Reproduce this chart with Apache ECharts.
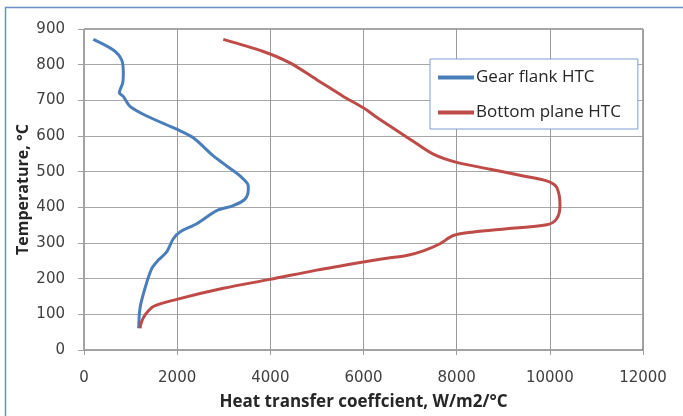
<!DOCTYPE html>
<html>
<head>
<meta charset="utf-8">
<script src="https://cdn.jsdelivr.net/npm/echarts@6/dist/echarts.min.js"></script>
<style>
html,body{margin:0;padding:0;background:#fff;}
#c{width:683px;height:416px;}
</style>
</head>
<body>
<div id="c"></div>
<script>
// Heat transfer coefficient (W/m2/°C) vs temperature (°C)
const gearFlankHTC = [200, 629, 809, 844, 831, 758, 844, 987, 1346, 1990, 2346, 2776, 3063, 3349, 3527, 3527, 3456, 3205, 2849, 2419, 2061, 1917, 1775, 1595, 1453, 1309, 1202, 1174];
const gearFlankTemp = [871, 841, 813, 776, 749, 721, 711, 683, 656, 619, 595, 544, 516, 488, 460, 451, 423, 405, 391, 354, 331, 312, 275, 252, 228, 173, 117, 61];

const bottomPlaneHTC = [2990, 3849, 4420, 4995, 5567, 5996, 6354, 6998, 7498, 8000, 8716, 9430, 9933, 10147, 10218, 10147, 9933, 9074, 8357, 7928, 7642, 7284, 6927, 6425, 5996, 4995, 3993, 2990, 1990, 1488, 1309, 1238, 1202];
const bottomPlaneTemp = [871, 837, 805, 758, 711, 679, 646, 591, 549, 526, 507, 488, 474, 456, 405, 368, 351, 340, 331, 321, 298, 278, 265, 256, 247, 224, 198, 173, 142, 122, 98, 80, 61];

const seriesNames = ['Gear flank HTC', 'Bottom plane HTC'];
const xTitle = 'Heat transfer coeffcient, W/m2/°C';
const yTitle = 'Temperature, °C';

function pairs(xs, ys) { return xs.map((x, i) => [x, ys[i]]); }

const chart = echarts.init(document.getElementById('c'), null, {renderer: 'canvas'});
const font = 'Open Sans';
const tickFont = 'DejaVu Sans';
chart.setOption({
  animation: false,
  backgroundColor: '#ffffff',
  graphic: [{
    type: 'rect', z: 0, silent: true,
    shape: {x: 5.5, y: 7.5, width: 720, height: 440},
    style: {fill: 'none', stroke: '#6a8fc8', lineWidth: 1.5}
  }],
  grid: {left: 84, right: 40, top: 29, bottom: 64, show: true, borderColor: '#4a4a4a', borderWidth: 1, backgroundColor: 'transparent'},
  legend: {
    orient: 'vertical', left: 430, top: 59,
    data: seriesNames,
    icon: 'rect', itemWidth: 36, itemHeight: 4, itemGap: 18,
    padding: [10, 17, 8, 8],
    borderColor: '#7f9fd0', borderWidth: 1, backgroundColor: '#fff',
    textStyle: {fontFamily: font, fontSize: 17, color: '#262626', padding: [0, 0, 0, -3]}
  },
  xAxis: {
    type: 'value', min: 0, max: 12000, interval: 2000,
    name: xTitle, nameLocation: 'middle', nameGap: 44, nameMoveOverlap: false,
    nameTextStyle: {fontFamily: font, fontSize: 17, fontWeight: 'bold', color: '#262626'},
    axisLine: {show: true, lineStyle: {color: '#a0a0a0', width: 1}},
    axisTick: {show: true, length: 5, lineStyle: {color: '#a0a0a0'}},
    axisLabel: {fontFamily: tickFont, fontSize: 15, color: '#404040', margin: 21, formatter: v => String(v)},
    splitLine: {show: true, lineStyle: {color: '#9a9a9a', width: 1}}
  },
  yAxis: {
    type: 'value', min: 0, max: 900, interval: 100,
    name: yTitle, nameLocation: 'middle', nameGap: 53, nameMoveOverlap: false,
    nameTextStyle: {fontFamily: font, fontSize: 16, fontWeight: 'bold', color: '#262626'},
    axisLine: {show: true, lineStyle: {color: '#a0a0a0', width: 1}},
    axisTick: {show: true, length: 6, lineStyle: {color: '#a0a0a0'}},
    axisLabel: {fontFamily: tickFont, fontSize: 15, color: '#404040', margin: 19},
    splitLine: {show: true, lineStyle: {color: '#a8a8a8', width: 1}}
  },
  series: [
    {name: seriesNames[0], type: 'line', data: pairs(gearFlankHTC, gearFlankTemp), smooth: 0.3, showSymbol: false,
     lineStyle: {color: '#4a7ebb', width: 3}, itemStyle: {color: '#4a7ebb'}},
    {name: seriesNames[1], type: 'line', data: pairs(bottomPlaneHTC, bottomPlaneTemp), smooth: 0.3, showSymbol: false,
     lineStyle: {color: '#be4b48', width: 3}, itemStyle: {color: '#be4b48'}}
  ]
});
</script>
</body>
</html>
